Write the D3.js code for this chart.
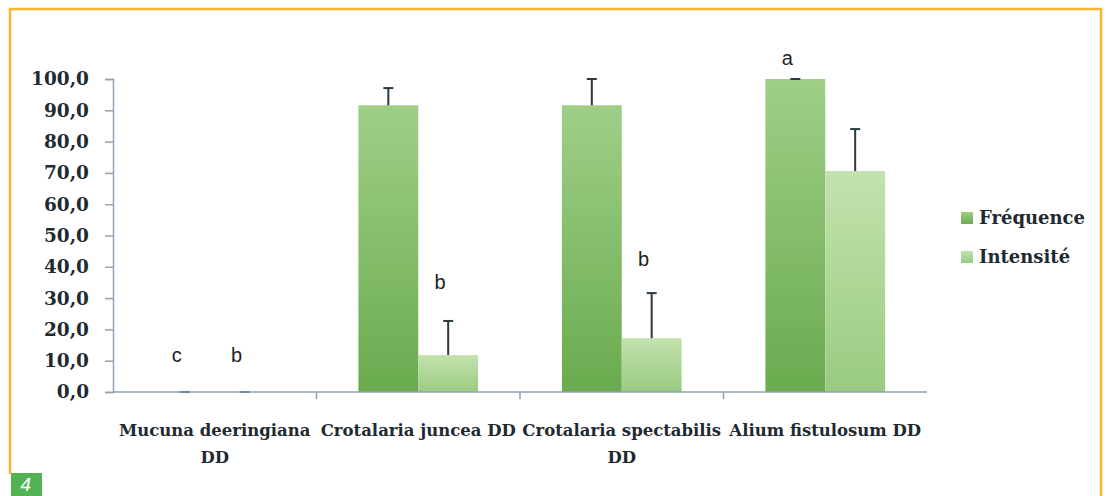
<!DOCTYPE html>
<html>
<head>
<meta charset="utf-8">
<script src="https://cdn.jsdelivr.net/npm/d3@7"></script>
<style>
	body { margin: 0; background: #fff; overflow: hidden; }
	svg { display: block; }
	.tick-label { font-family: 'DejaVu Serif', serif; font-weight: bold; fill: #1f2a30; }
	.letter { font-family: 'Liberation Sans', Arial, sans-serif; font-size: 20px; fill: #222; }
</style>
</head>
<body>
<svg></svg>
<script>
// data
const categories = ['Mucuna deeringiana DD', 'Crotalaria juncea DD', 'Crotalaria spectabilis DD', 'Alium fistulosum DD'];
const categoryLines = [['Mucuna deeringiana', 'DD'], ['Crotalaria juncea DD'], ['Crotalaria spectabilis', 'DD'], ['Alium fistulosum DD']];
const seriesNames = ['Fréquence', 'Intensité'];
const frequence = [0, 91.6, 91.6, 100];
const frequenceErr = [0, 5.5, 8.4, 0];
const intensite = [0, 11.8, 17.2, 70.6];
const intensiteErr = [0, 10.9, 14.4, 13.4];
// significance letters and the level (in axis units) where they sit
const freqLetters = ['c', null, null, 'a'];
const freqLetterLevel = [11.8, null, null, 106.7];
const intLetters = ['b', 'b', 'b', null];
const intLetterLevel = [11.8, 35, 42.5, null];
const yTicks = [0, 10, 20, 30, 40, 50, 60, 70, 80, 90, 100];

const width = 1110;
const height = 496;

const svg = d3.select('svg')
	.attr('width', width)
	.attr('height', height);

const defs = svg.append('defs');
const gradients = [
	{ id: 'gFreq', top: '#9fcf87', bottom: '#6aab4f' },
	{ id: 'gInt', top: '#c3e2ae', bottom: '#9acb81' }
];
gradients.forEach(gr => {
	const lg = defs.append('linearGradient')
		.attr('id', gr.id)
		.attr('x1', 0).attr('y1', 0).attr('x2', 0).attr('y2', 1);
	lg.append('stop').attr('offset', '0%').attr('stop-color', gr.top);
	lg.append('stop').attr('offset', '100%').attr('stop-color', gr.bottom);
});

// orange frame
svg.append('path')
	.attr('d', `M10,474 V9 H1101 V496`)
	.attr('fill', 'none')
	.attr('stroke', '#fbb42a')
	.attr('stroke-width', 2.5);

// figure number box
svg.append('rect')
	.attr('x', 11).attr('y', 473).attr('width', 31).attr('height', 23)
	.attr('fill', '#52b352');
svg.append('text')
	.attr('x', 26).attr('y', 491)
	.attr('text-anchor', 'middle')
	.attr('fill', '#fff')
	.style('font-family', 'DejaVu Sans, sans-serif')
	.style('font-style', 'italic')
	.style('font-weight', '200')
	.style('font-size', '18px')
	.text('4');

const margin = { left: 113, top: 79 };

const g = svg.append('g')
	.attr('transform', `translate(${margin.left},${margin.top})`);

const xScale = d3.scaleBand()
	.domain(categories)
	.range([0, 814]);

const xInner = d3.scaleBand()
	.domain(seriesNames)
	.range([0, xScale.bandwidth()])
	.paddingOuter(0.7);

const yScale = d3.scaleLinear()
	.domain([0, 100])
	.range([313, 0]);

const axisColor = '#8fa3b2';

// y axis
const yAxis = d3.axisLeft(yScale)
	.tickValues(yTicks)
	.tickSize(8)
	.tickPadding(16)
	.tickFormat(d => d3.format('.1f')(d).replace('.', ','));

const yAxisG = g.append('g').call(yAxis);
yAxisG.select('.domain').attr('stroke', axisColor).attr('stroke-width', 1.5);
yAxisG.selectAll('.tick line').attr('stroke', axisColor).attr('stroke-width', 1.5);
yAxisG.selectAll('.tick text')
	.attr('class', 'tick-label')
	.style('font-size', '18.5px');

// bars
const series = [
	{ name: seriesNames[0], values: frequence, errs: frequenceErr, fill: 'url(#gFreq)', letters: freqLetters, levels: freqLetterLevel },
	{ name: seriesNames[1], values: intensite, errs: intensiteErr, fill: 'url(#gInt)', letters: intLetters, levels: intLetterLevel }
];

series.forEach(s => {
	const rows = categories.map((c, i) => ({ c, v: s.values[i], e: s.errs[i], letter: s.letters[i], level: s.levels[i] }));
	const bx = d => xScale(d.c) + xInner(s.name);
	const cx = d => bx(d) + xInner.bandwidth() / 2;

	g.selectAll(null).data(rows)
		.enter().append('rect')
			.attr('x', bx)
			.attr('width', xInner.bandwidth())
			.attr('y', d => yScale(d.v))
			.attr('height', d => yScale(0) - yScale(d.v))
			.attr('fill', s.fill);

	// error bars (upper only)
	const eb = g.selectAll(null).data(rows)
		.enter().append('g')
			.attr('stroke', '#2a3a42')
			.attr('stroke-width', 2);
	eb.append('line')
		.attr('x1', cx).attr('x2', cx)
		.attr('y1', d => yScale(d.v))
		.attr('y2', d => yScale(d.v + d.e));
	eb.append('line')
		.attr('x1', d => cx(d) - 5).attr('x2', d => cx(d) + 5)
		.attr('y1', d => yScale(d.v + d.e))
		.attr('y2', d => yScale(d.v + d.e));

	g.selectAll(null).data(rows.filter(d => d.letter))
		.enter().append('text')
			.attr('class', 'letter')
			.attr('x', d => cx(d) - 8)
			.attr('y', d => yScale(d.level))
			.attr('dy', '0.35em')
			.attr('text-anchor', 'middle')
			.text(d => d.letter);
});

// x axis
const xAxisG = g.append('g')
	.attr('transform', `translate(0,${yScale(0)})`);
xAxisG.append('line')
	.attr('x1', 0).attr('x2', 814)
	.attr('stroke', axisColor).attr('stroke-width', 1.5);
xAxisG.selectAll(null).data(categories.slice(1))
	.enter().append('line')
		.attr('x1', d => xScale(d)).attr('x2', d => xScale(d))
		.attr('y1', 0).attr('y2', 7)
		.attr('stroke', axisColor).attr('stroke-width', 1.5);

const labels = xAxisG.selectAll(null).data(categories)
	.enter().append('text')
		.attr('class', 'tick-label')
		.attr('text-anchor', 'middle')
		.style('font-size', '16.5px')
		.attr('transform', d => `translate(${xScale(d) + xScale.bandwidth() / 2},44)`);
labels.selectAll('tspan')
	.data((d, i) => categoryLines[i])
	.enter().append('tspan')
		.attr('x', 0)
		.attr('y', (d, i) => i * 27)
		.text(d => d);

// legend
const legend = svg.append('g')
	.attr('transform', 'translate(961,218)');
const legendFills = ['url(#gFreq)', 'url(#gInt)'];
const item = legend.selectAll(null).data(seriesNames)
	.enter().append('g')
		.attr('transform', (d, i) => `translate(0,${i * 39})`);
item.append('rect')
	.attr('x', 0).attr('y', -6).attr('width', 12).attr('height', 12)
	.attr('fill', (d, i) => legendFills[i]);
item.append('text')
	.attr('class', 'tick-label')
	.attr('x', 18)
	.attr('dy', '0.35em')
	.style('font-size', '18px')
	.text(d => d);
</script>
</body>
</html>
